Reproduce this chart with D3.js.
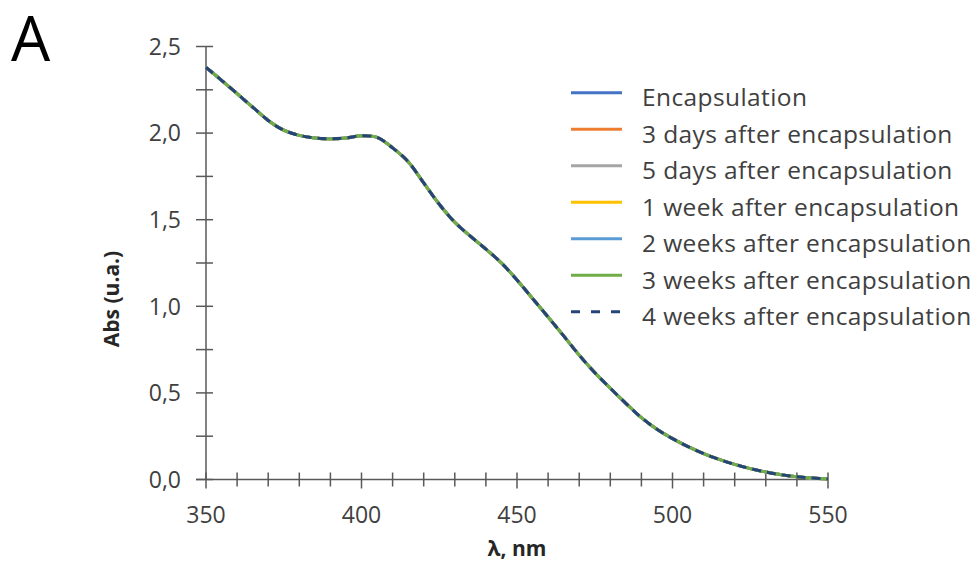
<!DOCTYPE html>
<html>
<head>
<meta charset="utf-8">
<script src="https://cdn.jsdelivr.net/npm/d3@7"></script>
<style>
  body { margin: 0; background: #fff; }
  svg { display: block; }
  text { font-family: "Open Sans", "Noto Sans", sans-serif; }
</style>
</head>
<body>
<svg id="chart" width="979" height="564"></svg>
<script>
// wavelengths (nm) and absorbance
const wavelength = [350, 355, 360, 365, 370, 375, 380, 385, 390, 395, 400, 405, 410, 415, 420,
  425, 430, 435, 440, 445, 450, 455, 460, 465, 470, 475, 480, 485, 490, 495, 500,
  505, 510, 515, 520, 525, 530, 535, 540, 545, 550];
// all seven spectra sit on top of each other in the figure
const absorbance = [2.38, 2.305, 2.228, 2.15, 2.073, 2.017, 1.987, 1.972, 1.967, 1.972, 1.984, 1.975, 1.915, 1.835, 1.712,
  1.589, 1.485, 1.405, 1.33, 1.25, 1.152, 1.045, 0.938, 0.829, 0.718, 0.617, 0.527, 0.44, 0.357, 0.29, 0.236,
  0.19, 0.15, 0.116, 0.087, 0.063, 0.043, 0.027, 0.016, 0.008, 0.003];

const seriesNames = ["Encapsulation", "3 days after encapsulation", "5 days after encapsulation",
  "1 week after encapsulation", "2 weeks after encapsulation", "3 weeks after encapsulation",
  "4 weeks after encapsulation"];
const seriesColors = ["#4472C4", "#ED7D31", "#A5A5A5", "#FFC000", "#5B9BD5", "#70AD47", "#264478"];
const seriesDashed = [false, false, false, false, false, false, true];

const xTicks = d3.range(350, 551, 10);
const xLabels = [350, 400, 450, 500, 550];
const yTicks = d3.range(0, 2.51, 0.25);
const yLabels = [0, 0.5, 1, 1.5, 2, 2.5];

const svg = d3.select("#chart");
const axisColor = "#595959";
const labelColor = "#404040";

const x = d3.scaleLinear().domain([350, 550]).range([206, 828]);
const y = d3.scaleLinear().domain([0, 2.5]).range([479.5, 46.5]);

// y axis: line + crossing ticks
svg.append("line")
  .attr("x1", x(350)).attr("x2", x(350))
  .attr("y1", y(2.5)).attr("y2", y(0))
  .attr("stroke", axisColor).attr("stroke-width", 1.5);
svg.selectAll(".ytick").data(yTicks).join("line")
  .attr("x1", x(350) - 10).attr("x2", x(350) + 7)
  .attr("y1", d => y(d)).attr("y2", d => y(d))
  .attr("stroke", axisColor).attr("stroke-width", 1.5);
svg.selectAll(".ylab").data(yLabels).join("text")
  .attr("x", 181).attr("y", d => y(d))
  .attr("dy", "0.36em")
  .attr("text-anchor", "end")
  .attr("font-size", 23).attr("fill", labelColor)
  .text(d => d.toFixed(1).replace(".", ","));

// x axis
svg.append("line")
  .attr("x1", x(350) - 10).attr("x2", x(550))
  .attr("y1", y(0)).attr("y2", y(0))
  .attr("stroke", axisColor).attr("stroke-width", 1.5);
svg.selectAll(".xtick").data(xTicks).join("line")
  .attr("x1", d => x(d)).attr("x2", d => x(d))
  .attr("y1", y(0) - 7)
  .attr("y2", d => y(0) + (d % 50 === 0 ? 9 : 7))
  .attr("stroke", axisColor).attr("stroke-width", 1.5);
svg.selectAll(".xlab").data(xLabels).join("text")
  .attr("x", d => x(d)).attr("y", 523)
  .attr("text-anchor", "middle")
  .attr("font-size", 23).attr("fill", labelColor)
  .text(d => d);

// titles
svg.append("text")
  .attr("x", x(450)).attr("y", 556)
  .attr("text-anchor", "middle")
  .attr("font-size", 21).attr("font-weight", "bold").attr("fill", "#262626")
  .text("λ, nm");
svg.append("text")
  .attr("transform", "translate(119,299) rotate(-90)")
  .attr("text-anchor", "middle")
  .attr("font-size", 21).attr("font-weight", "bold").attr("fill", "#262626")
  .text("Abs (u.a.)");
svg.append("text")
  .attr("x", 11).attr("y", 61)
  .attr("font-size", 62).attr("fill", "#000")
  .text("A");

// spectra
const line = d3.line()
  .x((d, i) => x(wavelength[i]))
  .y(d => y(d))
  .curve(d3.curveCatmullRom.alpha(0.5));

seriesNames.forEach((name, k) => {
  svg.append("path")
    .datum(absorbance)
    .attr("fill", "none")
    .attr("stroke", seriesColors[k])
    .attr("stroke-width", 3)
    .attr("stroke-dasharray", seriesDashed[k] ? "9,6" : null)
    .attr("d", line);
});

// legend
const legend = svg.append("g");
seriesNames.forEach((name, k) => {
  const ly = 92.7 + 36.5 * k;
  legend.append("line")
    .attr("x1", 571).attr("x2", 622)
    .attr("y1", ly).attr("y2", ly)
    .attr("stroke", seriesColors[k])
    .attr("stroke-width", 3)
    .attr("stroke-dasharray", seriesDashed[k] ? "9,11" : null);
  legend.append("text")
    .attr("x", 642).attr("y", ly + 13.3)
    .attr("font-size", 24.5).attr("letter-spacing", 0.4).attr("fill", labelColor)
    .text(name);
});
</script>
</body>
</html>
